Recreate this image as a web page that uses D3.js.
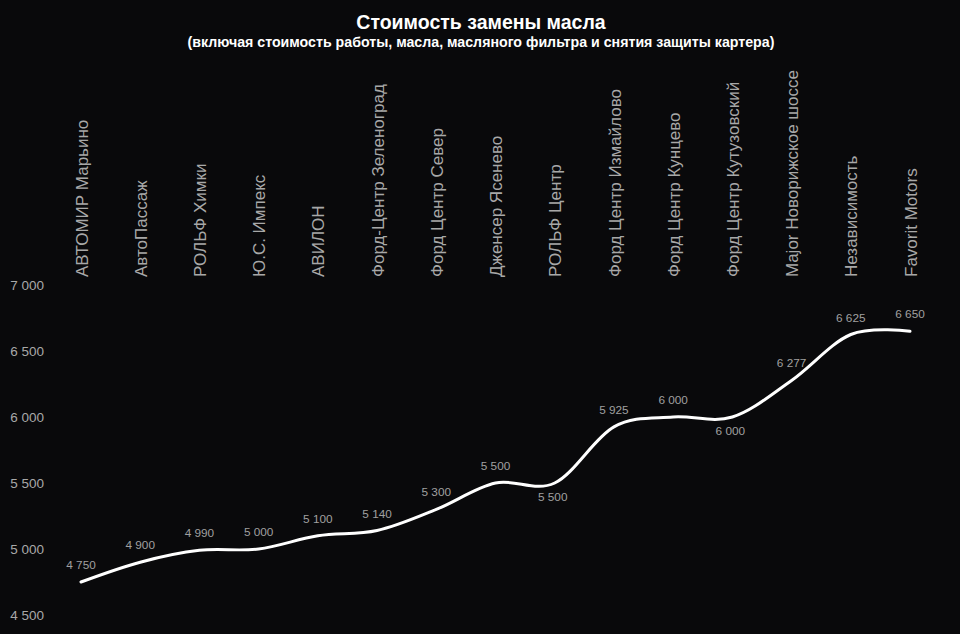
<!DOCTYPE html>
<html><head><meta charset="utf-8">
<script src="https://cdn.jsdelivr.net/npm/d3@7"></script>
<style>
html,body{margin:0;padding:0;background:#09090b;}
svg{display:block;}
text{font-family:"Liberation Sans",Arial,Helvetica,sans-serif;}
</style></head>
<body>
<svg id="chart" width="960" height="634"></svg>
<script>
const categories = ["АВТОМИР Марьино","АвтоПассаж","РОЛЬФ Химки","Ю.С. Импекс","АВИЛОН","Форд-Центр Зеленоград","Форд Центр Север","Дженсер Ясенево","РОЛЬФ Центр","Форд Центр Измайлово","Форд Центр Кунцево","Форд Центр Кутузовский","Major Новорижское шоссе","Независимость","Favorit Motors"];
const values = [4750,4900,4990,5000,5100,5140,5300,5500,5500,5925,6000,6000,6277,6625,6650];
const yTicks = [4500,5000,5500,6000,6500,7000];
const title = "Стоимость замены масла";
const subtitle = "(включая стоимость работы, масла, масляного фильтра и снятия защиты картера)";

const svg = d3.select("#chart");
svg.append("rect").attr("width",960).attr("height",634).attr("fill","#09090b");

const fmt = v => d3.format(",")(v).replace(/,/g," ");

const x = d3.scalePoint().domain(categories).range([81,910]);
const y = d3.scaleLinear().domain([4500,7000]).range([615,285]);

svg.append("text").attr("x",481).attr("y",29).attr("text-anchor","middle")
  .attr("fill","#ffffff").attr("font-weight","bold").attr("font-size",19.5).text(title);
svg.append("text").attr("x",481).attr("y",47).attr("text-anchor","middle")
  .attr("fill","#ffffff").attr("font-weight","bold").attr("font-size",14.2).text(subtitle);

// y axis labels
const yAxis = d3.axisLeft(y).tickValues(yTicks).tickFormat(fmt).tickSize(0).tickPadding(0);
const gy = svg.append("g").attr("transform","translate(44,0)").call(yAxis);
gy.select(".domain").remove();
gy.selectAll("text").attr("fill","#a8a8a8").attr("font-size",13.5)
  .attr("font-family","'Liberation Sans',Arial,sans-serif");

// category labels (rotated)
const xAxis = d3.axisTop(x).tickSize(0).tickPadding(0);
const gx = svg.append("g").attr("transform","translate(0,277)").call(xAxis);
gx.select(".domain").remove();
gx.selectAll("text")
  .attr("fill","#a8a8a8").attr("font-size",17)
  .attr("font-family","'Liberation Sans',Arial,sans-serif")
  .attr("transform","rotate(-90)")
  .attr("text-anchor","start").attr("x",0).attr("y",0).attr("dy","0.36em");

// line
const line = d3.line().x((d,i)=>x(categories[i])).y(d=>y(d)).curve(d3.curveCardinal.tension(0));
svg.append("path").datum(values).attr("d",line)
  .attr("fill","none").attr("stroke","#ffffff").attr("stroke-width",3).attr("stroke-linecap","round");

// data labels
svg.append("g").selectAll("text").data(values).join("text")
  .attr("x",(d,i)=>x(categories[i]) - ((i>0 && values[i-1]===d) ? 2 : 0))
  .attr("y",(d,i)=> (i>0 && values[i-1]===d) ? y(d)+18 : y(d)-13)
  .attr("text-anchor","middle")
  .attr("fill","#a0a0a0").attr("font-size",11.8)
  .text(fmt);
</script>
</body></html>
